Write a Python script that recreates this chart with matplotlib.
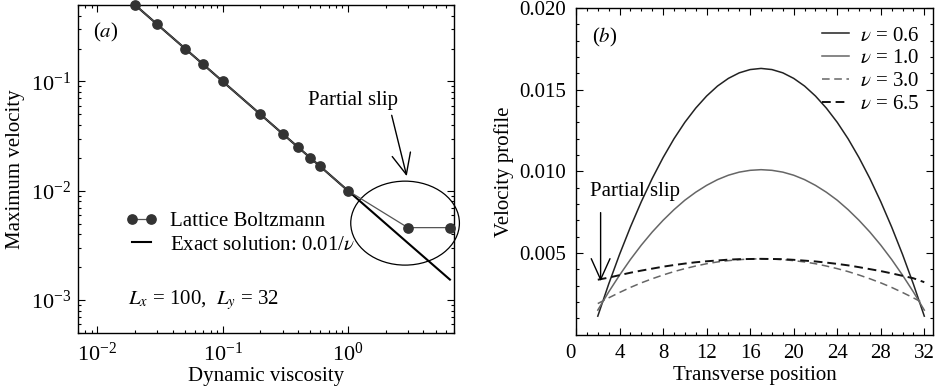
import matplotlib
matplotlib.use("Agg")
import matplotlib.pyplot as plt
from matplotlib.patches import Ellipse

plt.rcParams['font.family'] = ['Liberation Serif', 'DejaVu Serif']
plt.rcParams['mathtext.fontset'] = 'stix'
plt.rcParams['font.size'] = 15

# (a) maximum velocity vs dynamic viscosity
viscosity = [0.02, 0.03, 0.05, 0.07, 0.1, 0.2, 0.3, 0.4, 0.5, 0.6, 1.0, 3.0, 6.5]
lb_max_vel = [0.5, 0.333, 0.2, 0.143, 0.1, 0.05, 0.0333, 0.025, 0.02, 0.0167,
              0.01, 0.0046, 0.0046]
exact_vel = [0.5, 0.333, 0.2, 0.143, 0.1, 0.05, 0.0333, 0.025, 0.02, 0.0167,
             0.01, 0.00333, 0.00154]

# (b) velocity profiles across the channel
position = list(range(2, 33))
prof_06 = [0.00113, 0.00309, 0.00491, 0.00659, 0.00814, 0.00956, 0.01084, 0.01199,
           0.01300, 0.01387, 0.01461, 0.01522, 0.01569, 0.01603, 0.01623, 0.01630,
           0.01623, 0.01603, 0.01569, 0.01522, 0.01461, 0.01387, 0.01300, 0.01199,
           0.01084, 0.00956, 0.00814, 0.00659, 0.00491, 0.00309, 0.00113]
prof_10 = [0.00150, 0.00261, 0.00364, 0.00460, 0.00548, 0.00628, 0.00700, 0.00765,
           0.00823, 0.00872, 0.00914, 0.00949, 0.00976, 0.00995, 0.01006, 0.01010,
           0.01006, 0.00995, 0.00976, 0.00949, 0.00914, 0.00872, 0.00823, 0.00765,
           0.00700, 0.00628, 0.00548, 0.00460, 0.00364, 0.00261, 0.00150]
prof_30 = [0.00190, 0.00225, 0.00258, 0.00289, 0.00317, 0.00342, 0.00365, 0.00386,
           0.00404, 0.00420, 0.00434, 0.00445, 0.00453, 0.00459, 0.00463, 0.00464,
           0.00463, 0.00459, 0.00453, 0.00445, 0.00434, 0.00420, 0.00404, 0.00386,
           0.00365, 0.00342, 0.00317, 0.00289, 0.00258, 0.00225, 0.00190]
prof_65 = [0.00336, 0.00349, 0.00364, 0.00379, 0.00392, 0.00404, 0.00416, 0.00426,
           0.00435, 0.00443, 0.00449, 0.00454, 0.00459, 0.00462, 0.00463, 0.00464,
           0.00463, 0.00462, 0.00458, 0.00453, 0.00448, 0.00441, 0.00433, 0.00424,
           0.00413, 0.00401, 0.00389, 0.00375, 0.00360, 0.00345, 0.00321]

fig = plt.figure(figsize=(9.36, 3.92), dpi=100)
ax1 = fig.add_axes([0.0833, 0.1505, 0.4017, 0.8367])
ax2 = fig.add_axes([0.6154, 0.1464, 0.3814, 0.8332])

for ax in (ax1, ax2):
    ax.tick_params(which='both', direction='in', top=True, right=True, width=0.8)
    ax.tick_params(which='major', length=5, pad=7)
    ax.tick_params(which='minor', length=2.5)
    for s in ax.spines.values():
        s.set_linewidth(1.0)
ax1.tick_params(which='major', labelsize=16)
ax1.tick_params(axis='y', which='major', pad=5)

arrow = dict(arrowstyle='->,head_length=1.0,head_width=0.45', lw=1.0,
             color='black', shrinkA=0, shrinkB=0)

# panel (a)
ax1.set_xscale('log')
ax1.set_yscale('log')
ax1.plot(viscosity, lb_max_vel, '-o', color='#555555', lw=0.9, ms=6.7,
         mfc='#333333', mec='#333333', clip_on=False, zorder=3, label='Lattice Boltzmann')
ax1.plot(viscosity, exact_vel, '-', color='black', lw=1.5, zorder=2,
         label=r'Exact solution: 0.01/$\nu$')
ax1.set_xlim(0.007, 7)
ax1.set_ylim(5e-4, 0.5)
ax1.set_xlabel('Dynamic viscosity', labelpad=1)
ax1.set_ylabel('Maximum velocity', labelpad=4)
ax1.legend(loc='center left', bbox_to_anchor=(0.105, 0.305), frameon=False,
           numpoints=2, handlelength=1.5, handletextpad=0.6, labelspacing=0.2,
           borderaxespad=0)
ax1.text(0.04, 0.915, r'($a$)', transform=ax1.transAxes, va='center', ha='left')
ax1.text(0.133, 0.10, r'$L_x$ = 100,  $L_y$ = 32', transform=ax1.transAxes,
         va='center', ha='left')
ax1.add_patch(Ellipse((0.870, 0.335), 0.289, 0.256, transform=ax1.transAxes,
                      fill=False, lw=0.9, ec='black', clip_on=False))
ax1.annotate('', xy=(2.94, 0.0136), xytext=(2.23, 0.049), arrowprops=arrow)
ax1.text(1.09, 0.067, 'Partial slip', ha='center', va='center')

# panel (b)
ax2.plot(position, prof_06, '-', color='#222222', lw=1.1, label=r'$\nu$ = 0.6')
ax2.plot(position, prof_10, '-', color='#666666', lw=1.1, label=r'$\nu$ = 1.0')
ax2.plot(position, prof_30, '--', color='#666666', lw=1.1, dashes=(5, 3),
         label=r'$\nu$ = 3.0')
ax2.plot(position, prof_65, '--', color='#111111', lw=1.4, dashes=(4.5, 2.5),
         label=r'$\nu$ = 6.5')
ax2.set_xlim(0, 32.8)
ax2.set_ylim(0, 0.020)
ax2.set_xticks(range(0, 33, 4))
ax2.set_xticks(range(1, 33), minor=True)
ax2.set_yticks([0.005, 0.010, 0.015, 0.020])
ax2.set_yticklabels(['0.005', '0.010', '0.015', '0.020'])
ax2.set_yticks([i * 0.001 for i in range(1, 20)], minor=True)
ax2.get_xticklabels()[0].set_ha('right')
ax2.set_xlabel('Transverse position', labelpad=2)
ax2.set_ylabel('Velocity profile', labelpad=4)
ax2.legend(loc='upper right', bbox_to_anchor=(0.985, 0.97), frameon=False,
           handlelength=1.3, handletextpad=0.5, labelspacing=0.15, borderaxespad=0)
ax2.text(0.045, 0.911, r'($b$)', transform=ax2.transAxes, va='center', ha='left')
ax2.annotate('', xy=(2.26, 0.00327), xytext=(2.26, 0.00747), arrowprops=arrow)
ax2.text(5.4, 0.00878, 'Partial slip', ha='center', va='center')

fig.savefig('out.png', dpi=100)
